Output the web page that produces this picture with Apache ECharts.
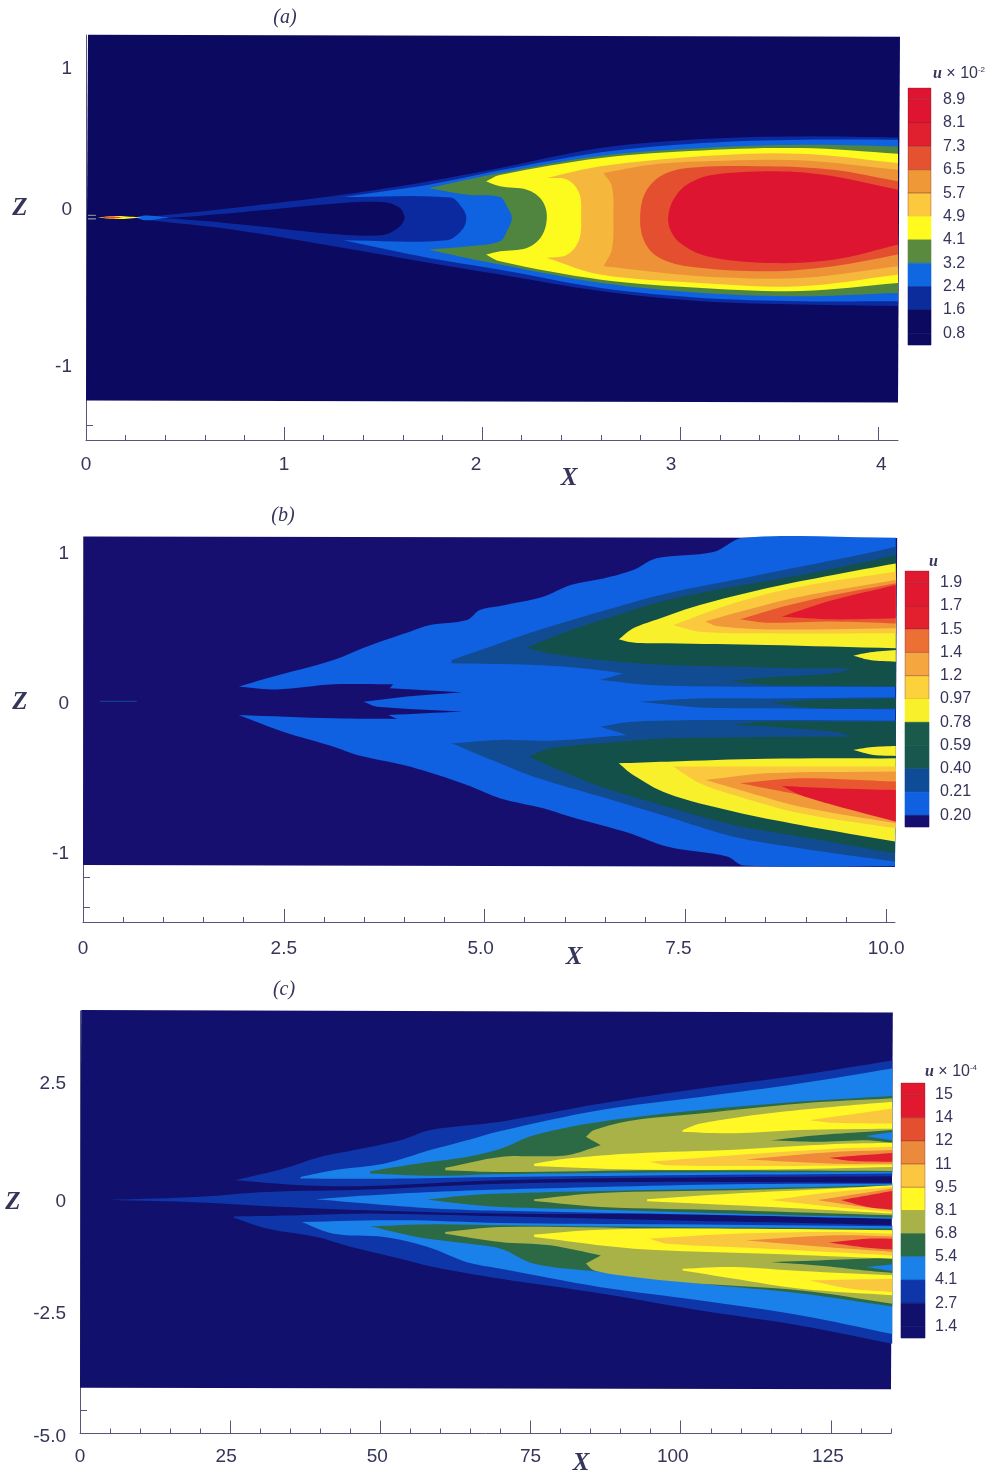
<!DOCTYPE html>
<html><head><meta charset="utf-8">
<script src="https://cdn.jsdelivr.net/npm/echarts@6/dist/echarts.min.js"></script>
<style>html,body{margin:0;padding:0;background:#fff}#c{width:997px;height:1473px}#c canvas{filter:blur(.45px)}</style>
</head><body><div id="c"></div>
<script>
// ---------- Panel (a): contour regions as [X, Z] outlines ----------
const aField=[[0.01,1.221],[4.11,1.208],[4.10,-1.248],[0,-1.235]];
const aDark=[[.29,-.005],[.74,.058],[1.30,.148],[1.73,.237],[2.09,.327],[2.60,.461],[3.11,.521],[3.61,.539],[4.1,.532],[4.1,-.60],[3.61,-.59],[3.11,-.568],[2.60,-.50],[2.09,-.389],[1.73,-.31],[1.30,-.21],[.74,-.087],[.29,-.02],[.41,-.012],[.744,-.047],[1.25,-.116],[1.50,-.123],[1.586,-.065],[1.611,-.009],[1.586,.058],[1.50,.098],[1.249,.087],[.744,.025],[.407,-.009]];
const aBlue=[[1.30,.132],[1.73,.215],[2.09,.311],[2.6,.432],[3.11,.494],[3.61,.517],[4.1,.517],[4.1,-.568],[3.61,-.568],[3.11,-.546],[2.6,-.479],[2.09,-.356],[1.73,-.277],[1.30,-.159],[1.82,-.159],[1.90,-.087],[1.92,-.009],[1.90,.058],[1.84,.128]];
const aGreen=[[1.73,.192],[2.09,.293],[2.6,.409],[3.11,.461],[3.61,.483],[4.1,.472],[4.1,-.512],[3.61,-.535],[3.11,-.512],[2.6,-.445],[2.09,-.322],[1.93,-.28],[1.73,-.221],[1.92,-.2],[2.09,-.166],[2.125,-.098],[2.15,-.009],[2.125,.069],[2.09,.132],[1.92,.148]];
const aYellow=[[2.02,.237],[2.09,.28],[2.6,.394],[3.11,.445],[3.61,.461],[4.1,.423],[4.1,-.445],[3.61,-.50],[3.11,-.479],[2.6,-.423],[2.09,-.30],[2.02,-.255],[2.09,-.233],[2.226,-.21],[2.30,-.132],[2.327,.002],[2.30,.114],[2.226,.181],[2.09,.204]];
const aGold=[[2.327,.26],[2.596,.338],[3.10,.405],[3.606,.423],[4.1,.36],[4.1,-.389],[3.606,-.468],[3.10,-.445],[2.596,-.389],[2.327,-.277],[2.43,-.255],[2.49,-.154],[2.50,.002],[2.49,.159],[2.43,.248]];
const aOrange=[[2.613,.293],[2.85,.349],[3.10,.371],[3.606,.378],[4.1,.315],[4.1,-.333],[3.606,-.412],[3.10,-.40],[2.613,-.333],[2.655,-.221],[2.663,.002],[2.655,.204]];
const aRedOrange=[[2.798,.002],[2.823,.159],[2.90,.271],[3.034,.327],[3.44,.338],[3.774,.315],[4.1,.237],[4.1,-.255],[3.774,-.333],[3.44,-.367],[3.034,-.333],[2.882,-.266],[2.815,-.154]];
const aRed=[[2.94,.002],[2.966,.114],[3.034,.215],[3.17,.282],[3.522,.304],[3.774,.271],[4.1,.181],[4.1,-.188],[3.774,-.289],[3.44,-.311],[3.135,-.266],[3.0,-.177],[2.95,-.087]];
const aTipBlue=[[.25,-.005],[.30,.008],[.42,-.006],[.30,-.024]];
const aTipYellow=[[.06,-.005],[.16,.004],[.28,-.006],[.16,-.016]];
const aTipRed=[[.07,-.005],[.13,.001],[.19,-.005],[.13,-.013]];
const aTipPale1=[[.01,.012],[.05,.012],[.05,.007],[.01,.007]];
const aTipPale2=[[.01,-.012],[.05,-.012],[.05,-.018],[.01,-.018]];
const aXMajor=[0,1,2,3,4];
const aXMajorText=['0','1','2','3','4'];
const aXMinor=[.2,.4,.6,.8,1.2,1.4,1.6,1.8,2.2,2.4,2.6,2.8,3.2,3.4,3.6,3.8];
const aYLabels=[1,0,-1];
const aYLabelText=['1','0','-1'];
const aYTicks=[-1.4];
const aLevels=['8.9','8.1','7.3','6.5','5.7','4.9','4.1','3.2','2.4','1.6','0.8'];
const aBarColors=['#de1430','#de1430','#e0202e','#e5522f','#ef9838','#fbc83e','#fffb1e','#5a8a3e','#1068e0','#0c2c9c','#0b0a60','#0b0a60'];

// ---------- Panel (b) ----------
const bField=[[0.012,1.103],[10.137,1.093],[10.11,-1.10],[0,-1.087]];
const bStreak=[[.21,.009],[.67,.009],[.67,.002],[.21,.002]];
const bBlue=[[1.94,.102],[2.29,.158],[3.12,.28],[3.53,.369],[4.07,.469],[4.32,.513],[4.78,.547],[4.94,.613],[5.19,.64],[5.73,.702],[6.07,.78],[6.48,.824],[6.85,.88],[7.14,.958],[7.85,1.0],[8.22,1.095],[10.12,1.095],[10.11,-1.095],[8.22,-1.09],[8.02,-1.03],[7.27,-.964],[6.81,-.876],[6.06,-.764],[5.73,-.709],[5.19,-.642],[4.78,-.553],[4.07,-.431],[3.41,-.353],[3.12,-.298],[2.49,-.198],[1.94,-.087],[3.12,-.109],[3.91,-.113],[3.80,-.087],[4.72,-.064],[3.66,-.031],[3.49,.002],[4.11,.04],[4.72,.064],[3.82,.091],[3.86,.118],[3.12,.118],[2.41,.084]];
const bTealUpper=[[4.59,.28],[5.19,.391],[5.61,.469],[6.44,.602],[7.27,.724],[8.10,.813],[8.93,.902],[9.76,.991],[10.12,1.036],[10.12,.102],[8.10,.102],[7.06,.113],[6.44,.147],[6.73,.191],[6.23,.224],[5.61,.247],[4.59,.258]];
const bTealMid=[[6.92,.002],[7.68,.024],[8.51,.024],[10.12,.031],[10.12,-.049],[8.51,-.042],[7.68,-.036]];
const bTealLower=[[4.59,-.276],[5.19,-.253],[5.82,-.258],[6.77,-.22],[6.44,-.164],[6.85,-.131],[8.10,-.12],[10.12,-.124],[10.11,-1.064],[8.93,-.976],[8.10,-.898],[7.27,-.764],[6.44,-.631],[5.61,-.498],[5.19,-.409]];
const bGreenUpper=[[5.55,.369],[6.02,.469],[6.65,.58],[7.27,.68],[8.10,.769],[8.93,.847],[9.76,.936],[10.12,.98],[10.12,.102],[9.34,.107],[8.51,.113],[8.06,.14],[8.51,.164],[9.34,.191],[9.59,.224],[8.93,.224],[8.10,.236],[7.27,.247],[6.44,.28],[5.82,.324],[5.55,.358]];
const bGreenMid=[[8.56,-.004],[9.14,.013],[10.12,.024],[10.12,-.042],[9.14,-.042]];
const bGreenLower=[[5.55,-.364],[5.82,-.309],[6.44,-.276],[7.27,-.242],[8.10,-.236],[8.93,-.231],[9.59,-.231],[9.34,-.198],[8.51,-.164],[8.06,-.153],[8.51,-.131],[9.34,-.131],[10.12,-.131],[10.11,-1.009],[8.93,-.898],[8.10,-.82],[7.27,-.698],[6.44,-.564],[6.02,-.476]];
const bYellowUpper=[[6.67,.418],[6.85,.491],[7.19,.558],[7.68,.647],[8.51,.758],[9.34,.847],[10.12,.924],[10.12,.358],[8.51,.38],[7.27,.391],[6.85,.396]];
const bYellowSmallUp=[[9.59,.309],[9.80,.331],[10.12,.347],[10.12,.269],[9.80,.28]];
const bYellowLower=[[6.67,-.409],[7.27,-.398],[8.51,-.378],[10.12,-.376],[10.11,-.931],[8.93,-.82],[8.10,-.731],[7.27,-.609],[6.85,-.487]];
const bYellowSmallLow=[[9.59,-.32],[9.80,-.302],[10.12,-.293],[10.12,-.36],[9.84,-.353]];
const bGoldUpper=[[7.35,.513],[8.10,.658],[8.93,.769],[10.12,.869],[10.12,.458],[8.51,.458],[7.68,.469]];
const bGoldLower=[[7.35,-.431],[10.12,-.431],[10.12,-.842],[8.93,-.742],[8.10,-.62],[7.68,-.542]];
const bOrangeUpper=[[7.75,.536],[8.18,.602],[8.93,.702],[10.12,.813],[10.12,.491],[8.51,.484],[7.89,.507]];
const bOrangeLower=[[7.75,-.52],[8.51,-.476],[10.12,-.464],[10.12,-.809],[8.93,-.698],[8.18,-.587]];
const bRedOrangeUpper=[[8.18,.551],[8.72,.636],[9.34,.713],[10.12,.791],[10.12,.524],[9.34,.536],[8.51,.529]];
const bRedOrangeLower=[[8.18,-.542],[8.93,-.509],[10.12,-.531],[10.12,-.787],[9.34,-.664],[8.72,-.598]];
const bRedUpper=[[8.70,.569],[9.34,.68],[10.12,.78],[10.12,.558],[9.34,.551]];
const bRedLower=[[8.70,-.56],[9.34,-.576],[10.12,-.587],[10.12,-.798],[9.34,-.687],[8.93,-.62]];
const bXMajor=[0,2.5,5,7.5,10];
const bXMajorText=['0','2.5','5.0','7.5','10.0'];
const bXMinor=[.5,1,1.5,2,3,3.5,4,4.5,5.5,6,6.5,7,8,8.5,9,9.5];
const bYLabels=[1,0,-1];
const bYLabelText=['1','0','-1'];
const bYTicks=[-1.167,-1.367];
const bLevels=['1.9','1.7','1.5','1.4','1.2','0.97','0.78','0.59','0.40','0.21','0.20'];
const bBarColors=['#e01830','#e01830','#e2202e','#ec7034','#f5a63e','#fbd23c','#f8f02a','#1a5a4a','#17574e','#0f4c98','#1060e2','#160f70'];

// ---------- Panel (c) ----------
const cField=[[0.2,4.07],[135.3,4.02],[135,-4.05],[0,-4.02]];
const cDarkUpper=[[25.8,.425],[33.9,.675],[40,.925],[45.6,1.07],[53.3,1.28],[58.3,1.50],[70,1.68],[86.7,2.07],[103.3,2.39],[120,2.68],[135.2,2.99],[135.2,.51],[97.8,.48],[70,.425],[47.8,.30],[36.7,.32]];
const cDarkCentre=[[5,.005],[20,.07],[31.1,.175],[47.8,.225],[70,.35],[97.8,.39],[135.2,.37],[135.2,-.405],[125.6,-.375],[97.8,-.305],[70,-.29],[47.8,-.22],[31.1,-.13],[20,-.05]];
const cDarkLower=[[25.6,-.35],[36.7,-.326],[47.8,-.29],[70,-.348],[97.8,-.433],[125.6,-.505],[135.2,-.54],[135.2,-3.08],[120,-2.69],[103.3,-2.365],[86.7,-2.0],[70,-1.685],[58.9,-1.435],[53.3,-1.255],[45,-1.0],[39.4,-.79],[31.1,-.61],[25.6,-.376]];
const cBlueUpper=[[36.7,.495],[42.2,.64],[50.6,.78],[58.3,1.07],[64.4,1.28],[70,1.48],[86.7,1.93],[103.3,2.21],[120,2.5],[135.2,2.82],[135.2,.57],[97.8,.53],[70,.495],[53.3,.46],[36.7,.46]];
const cBlueCentre=[[39.2,.02],[47.8,.10],[58.9,.175],[70,.225],[86.7,.28],[108.9,.34],[135.2,.35],[135.2,-.40],[108.9,-.325],[86.7,-.27],[70,-.23],[58.9,-.18],[47.8,-.075]];
const cBlueLower=[[36.9,-.47],[53.3,-.43],[70,-.49],[97.8,-.52],[135.2,-.56],[135.2,-2.87],[120,-2.47],[103.3,-2.15],[86.7,-1.865],[70,-1.47],[64.4,-1.33],[57.8,-1.0],[50.6,-.79],[42.2,-.72]];
const cGreenUpper=[[48.3,.62],[56.1,.78],[64.4,.925],[70,1.10],[75.6,1.39],[86.7,1.68],[103.3,1.93],[120,2.11],[135.2,2.23],[135.2,.60],[97.8,.59],[70,.555],[58.9,.52],[48.3,.57]];
const cGreenCentre=[[57.8,.01],[64.4,.10],[70,.14],[86.7,.195],[108.9,.245],[135.2,.32],[135.2,-.375],[108.9,-.29],[86.7,-.205],[70,-.147],[64.4,-.09]];
const cGreenLower=[[48.3,-.56],[58.9,-.52],[70,-.54],[97.8,-.576],[135.2,-.61],[135.2,-2.28],[120,-2.0],[103.3,-1.79],[86.7,-1.54],[75.6,-1.365],[70,-1.04],[64.4,-.93],[56.1,-.79]];
const cOliveUpper=[[60.8,.69],[70,.925],[75.6,.94],[81.1,.96],[86.7,1.175],[84.2,1.355],[85.6,1.50],[92.2,1.71],[103.3,1.855],[120,2.07],[135.2,2.18],[135.2,.625],[97.8,.64],[70,.60],[60.8,.64]];
const cOliveCentre=[[75.6,.017],[86.7,.153],[108.9,.21],[135.2,.296],[135.2,-.326],[108.9,-.22],[86.7,-.147],[75.6,-.019]];
const cOliveLower=[[60.8,-.684],[70,-.576],[97.8,-.61],[135.2,-.648],[135.2,-2.22],[120,-1.935],[103.3,-1.79],[92.2,-1.65],[85.6,-1.506],[84.2,-1.36],[86.7,-1.185],[78.3,-.97],[70,-.90],[60.8,-.72]];
const cPatchGreenUp=[[115,1.28],[122.8,1.39],[130.6,1.46],[135.2,1.50],[135.2,1.226],[131.1,1.28],[122.8,1.25]];
const cPatchGreenLow=[[115,-1.33],[125.6,-1.28],[135.2,-1.235],[135.2,-1.56],[130.6,-1.507],[122.8,-1.40]];
const cPatchBlueUp=[[130.8,1.37],[135.2,1.46],[135.2,1.28]];
const cPatchBlueLow=[[130.8,-1.435],[135.2,-1.378],[135.2,-1.52]];
const cYellowU1=[[100.3,1.50],[103.3,1.64],[114.4,1.855],[125.6,2.0],[135.2,2.105],[135.2,1.53],[120,1.50],[108.9,1.43],[100.3,1.46]];
const cYellowU2=[[75.6,.78],[81.1,.89],[92.2,1.0],[108.9,1.08],[125.6,1.2],[135.2,1.226],[135.2,.71],[114.4,.654],[92.2,.654],[75.6,.73]];
const cYellowC=[[94.4,.017],[108.9,.14],[125.6,.246],[135.2,.318],[135.2,-.29],[125.6,-.22],[108.9,-.11],[94.4,-.026]];
const cYellowL1=[[75.6,-.74],[86.7,-.634],[108.9,-.612],[135.2,-.648],[135.2,-1.256],[114.4,-1.15],[92.2,-1.04],[75.6,-.79]];
const cYellowL2=[[100.3,-1.47],[108.9,-1.435],[120,-1.52],[135.2,-1.61],[135.2,-2.04],[120,-1.9],[108.9,-1.685],[100.3,-1.506]];
const cGoldU1=[[121.4,1.71],[135.2,1.96],[135.2,1.64],[125.6,1.655]];
const cGoldU2=[[94.7,.82],[108.9,.96],[125.6,1.10],[135.2,1.14],[135.2,.747],[114.4,.73],[97.8,.747]];
const cGoldC=[[115,0],[125.6,.175],[135.2,.28],[135.2,-.255],[125.6,-.147]];
const cGoldL1=[[94.7,-.827],[108.9,-.72],[125.6,-.684],[135.2,-.72],[135.2,-1.185],[114.4,-1.04],[97.8,-.934]];
const cGoldL2=[[121.4,-1.72],[135.2,-1.685],[135.2,-1.97],[128.3,-1.9]];
const cOrangeU2=[[110.8,.87],[125.6,1.03],[135.2,1.07],[135.2,.78],[125.6,.78]];
const cOrangeC=[[122.8,0],[135.2,.246],[135.2,-.22],[128.3,-.11]];
const cOrangeL1=[[110.8,-.863],[125.6,-.755],[135.2,-.777],[135.2,-1.11],[125.6,-1.02]];
const cRedU2=[[124.7,.905],[135.2,1.01],[135.2,.82],[128.3,.84]];
const cRedC=[[126.7,0],[131.1,.10],[135.2,.196],[135.2,-.205],[131.1,-.147]];
const cRedL1=[[124.7,-.91],[131.1,-.827],[135.2,-.827],[135.2,-1.06],[131.1,-1.02]];
const cXMajor=[0,25,50,75,100,125];
const cXMajorText=['0','25','50','75','100','125'];
const cXMinor=[5,10,15,20,30,35,40,45,55,60,65,70,80,85,90,95,105,110,115,120,130,135];
const cYLabels=[2.5,0,-2.5,-5];
const cYLabelText=['2.5','0','-2.5','-5.0'];
const cYTicks=[-4.5];
const cLevels=['15','14','12','11','9.5','8.1','6.8','5.4','4.1','2.7','1.4'];
const cBarColors=['#e2182f','#e2182f','#e4502f','#ec8a3c','#fbc640','#fff824','#a8b247','#2c6a46','#1a80ea','#0f36a8','#11106c','#11106c'];

// ---------- Styles ----------
const INK='#35355a', AXIS='#55557e', SANS='"Liberation Sans",Arial,sans-serif', SERIF='"Liberation Serif",serif';
const palA={navy:'#0b0a60',dark:'#0c2aa0',blue:'#0f62e0',green:'#50853f',yellow:'#fdfb1e',gold:'#f6b83c',orange:'#ee9238',redorange:'#e4502f',red:'#dd1530',pale:'#c9d6b0'};
const palB={navy:'#160f70',blue:'#1060e2',teal:'#114c93',green:'#14504a',yellow:'#f7f02a',gold:'#fbc93e',orange:'#f0983a',redorange:'#e8572f',red:'#e01830'};
const palC={navy:'#11106c',dark:'#0f36a8',blue:'#1a80ea',green:'#2c6a46',olive:'#a8b247',yellow:'#fff824',gold:'#f9c83f',orange:'#ee8a3a',red:'#e0202f'};

const layersA=[[aField,palA.navy],[aDark,palA.dark],[aBlue,palA.blue],[aGreen,palA.green],[aYellow,palA.yellow],[aGold,palA.gold],[aOrange,palA.orange],[aRedOrange,palA.redorange],[aRed,palA.red],[aTipBlue,palA.blue],[aTipYellow,palA.yellow],[aTipRed,palA.redorange],[aTipPale1,palA.pale],[aTipPale2,palA.pale]];
const layersB=[[bField,palB.navy],[bStreak,palB.teal],[bBlue,palB.blue],[bTealUpper,palB.teal],[bTealMid,palB.teal],[bTealLower,palB.teal],[bGreenUpper,palB.green],[bGreenMid,palB.green],[bGreenLower,palB.green],[bYellowUpper,palB.yellow],[bYellowSmallUp,palB.yellow],[bYellowLower,palB.yellow],[bYellowSmallLow,palB.yellow],[bGoldUpper,palB.gold],[bGoldLower,palB.gold],[bOrangeUpper,palB.orange],[bOrangeLower,palB.orange],[bRedOrangeUpper,palB.redorange],[bRedOrangeLower,palB.redorange],[bRedUpper,palB.red],[bRedLower,palB.red]];
const layersC=[[cField,palC.navy],[cDarkUpper,palC.dark],[cDarkCentre,palC.dark],[cDarkLower,palC.dark],[cBlueUpper,palC.blue],[cBlueCentre,palC.blue],[cBlueLower,palC.blue],[cGreenUpper,palC.green],[cGreenCentre,palC.green],[cGreenLower,palC.green],[cOliveUpper,palC.olive],[cOliveCentre,palC.olive],[cOliveLower,palC.olive],[cPatchGreenUp,palC.green],[cPatchGreenLow,palC.green],[cPatchBlueUp,palC.blue],[cPatchBlueLow,palC.blue],[cYellowU1,palC.yellow],[cYellowU2,palC.yellow],[cYellowC,palC.yellow],[cYellowL1,palC.yellow],[cYellowL2,palC.yellow],[cGoldU1,palC.gold],[cGoldU2,palC.gold],[cGoldC,palC.gold],[cGoldL1,palC.gold],[cGoldL2,palC.gold],[cOrangeU2,palC.orange],[cOrangeC,palC.orange],[cOrangeL1,palC.orange],[cRedU2,palC.red],[cRedC,palC.red],[cRedL1,palC.red]];

// nudges: horizontal label shift (px), matching the hand-set labels of the print
const panels=[
 {layers:layersA,box:{left:86,width:812,top:35,height:405},xMax:4.1,yMin:-1.5,yMax:1.22,
  xMajor:aXMajor,xText:aXMajorText,xMinor:aXMinor,yLabels:aYLabels,yText:aYLabelText,yTicks:aYTicks,
  xMargin:15,xNudge:{2:-6,3:-9,4:3},yLift:{0:8},yPad:[3,0,0,0],
  levels:aLevels,bar:aBarColors,barBox:{left:908,width:23,top:88,height:257},barMargin:12},
 {layers:layersB,box:{left:83,width:812,top:537,height:385},xMax:10.11,yMin:-1.467,yMax:1.1,
  xMajor:bXMajor,xText:bXMajorText,xMinor:bXMinor,yLabels:bYLabels,yText:bYLabelText,yTicks:bYTicks,
  xMargin:17,xNudge:{5:-4,7.5:-7},yLift:{},yPad:[3,0,0,0],
  levels:bLevels,bar:bBarColors,barBox:{left:905,width:24,top:571,height:256},barMargin:11},
 {layers:layersC,box:{left:80,width:811,top:1011,height:422.5},xMax:135,yMin:-5,yMax:4.05,
  xMajor:cXMajor,xText:cXMajorText,xMinor:cXMinor,yLabels:cYLabels,yText:cYLabelText,yTicks:cYTicks,
  xMargin:14,xNudge:{25:-4,50:-3,100:-8,125:-3},yLift:{0:-2,'-2.5':3,'-5':-3},yPad:[0,0,0,0],
  levels:cLevels,bar:cBarColors,barBox:{left:901,width:24,top:1083,height:255},barMargin:10}
];

// Rounds the drawn outline between read vertices, keeping tips and edge corners sharp.
function roundedOutline(px){
  const n=px.length, out=[], cornerAngle=50*Math.PI/180;
  const dir=(a,b)=>{const dx=b[0]-a[0],dy=b[1]-a[1],l=Math.hypot(dx,dy)||1;return [dx/l,dy/l];};
  const tang=px.map((p,i)=>{
    const a=px[(i-1+n)%n], b=px[(i+1)%n], d1=dir(a,p), d2=dir(p,b);
    const ang=Math.acos(Math.max(-1,Math.min(1,d1[0]*d2[0]+d1[1]*d2[1])));
    return ang>cornerAngle?null:dir(a,b);
  });
  for(let i=0;i<n;i++){
    const p0=px[i], p1=px[(i+1)%n], L=Math.hypot(p1[0]-p0[0],p1[1]-p0[1]), d=dir(p0,p1);
    const t0=tang[i]||d, t1=tang[(i+1)%n]||d;
    for(let s=0;s<8;s++){
      const u=s/8,u2=u*u,u3=u2*u;
      const h00=2*u3-3*u2+1,h10=u3-2*u2+u,h01=-2*u3+3*u2,h11=u3-u2;
      out.push([h00*p0[0]+h10*L*t0[0]+h01*p1[0]+h11*L*t1[0],h00*p0[1]+h10*L*t0[1]+h01*p1[1]+h11*L*t1[1]]);
    }
  }
  return out;
}

const grid=[],xAxis=[],yAxis=[],series=[];
function richFor(nudgeMap,vertical){
  const rich={};
  Object.keys(nudgeMap).forEach((k,i)=>{
    const d=nudgeMap[k];
    rich['n'+i]={fontFamily:SANS,fontSize:19,color:INK,
      padding:vertical?(d>0?[0,0,2*d,0]:[-2*d,0,0,0]):(d>0?[0,0,0,2*d]:[0,-2*d,0,0])};
  });
  return rich;
}
function labeler(values,texts,nudgeMap){
  return v=>{
    const idx=values.findIndex(t=>Math.abs(t-v)<1e-6);
    const s=idx<0?'':texts[idx];
    const k=Object.keys(nudgeMap).findIndex(t=>Math.abs(Number(t)-v)<1e-6);
    return k<0?s:'{n'+k+'|'+s+'}';
  };
}
panels.forEach(p=>{
  // main grid: field, major ticks, labels
  const gi=grid.length;
  grid.push(Object.assign({containLabel:false},p.box));
  xAxis.push({gridIndex:gi,type:'value',min:0,max:p.xMax,splitLine:{show:false},
    axisLine:{onZero:false,lineStyle:{color:AXIS,width:1}},
    axisTick:{customValues:p.xMajor,inside:true,length:13,lineStyle:{color:AXIS,width:1}},
    axisLabel:{customValues:p.xMajor,formatter:labeler(p.xMajor,p.xText,p.xNudge),rich:richFor(p.xNudge,false),
      hideOverlap:false,margin:p.xMargin,color:INK,fontFamily:SANS,fontSize:19}});
  yAxis.push({gridIndex:gi,type:'value',min:p.yMin,max:p.yMax,splitLine:{show:false},
    axisLine:{onZero:false,lineStyle:{color:AXIS,width:1}},
    axisTick:{customValues:p.yTicks,inside:true,length:7,lineStyle:{color:AXIS,width:1}},
    axisLabel:{customValues:p.yLabels,formatter:labeler(p.yLabels,p.yText,p.yLift),rich:richFor(p.yLift,true),padding:p.yPad,
      hideOverlap:false,margin:14,color:INK,fontFamily:SANS,fontSize:19}});
  series.push({type:'custom',xAxisIndex:xAxis.length-1,yAxisIndex:yAxis.length-1,silent:true,animation:false,z:3,
    data:p.layers.map(l=>l[0][0]),
    renderItem:(params,api)=>{
      const l=p.layers[params.dataIndex];
      const px=l[0].map(q=>api.coord(q));
      return {type:'polygon',shape:{points:params.dataIndex===0?px:roundedOutline(px)},style:{fill:l[1]}};
    }});
  // overlay grid: minor ticks only
  const gm=grid.length;
  grid.push(Object.assign({containLabel:false},p.box));
  xAxis.push({gridIndex:gm,type:'value',min:0,max:p.xMax,splitLine:{show:false},axisLine:{show:false,onZero:false},axisLabel:{show:false},
    axisTick:{customValues:p.xMinor,inside:true,length:5,lineStyle:{color:AXIS,width:1}}});
  yAxis.push({gridIndex:gm,type:'value',min:p.yMin,max:p.yMax,show:false});
  // colour bar: levels sit on the cell boundaries
  const gb=grid.length;
  grid.push(Object.assign({containLabel:false},p.barBox));
  const n=p.levels.length, idx=p.levels.map((_,i)=>n-1-i);
  xAxis.push({gridIndex:gb,type:'value',min:0,max:1,show:false});
  yAxis.push({gridIndex:gb,type:'value',position:'right',min:-.5,max:n-.5,splitLine:{show:false},axisLine:{show:false},axisTick:{show:false},
    axisLabel:{customValues:idx,formatter:v=>p.levels[n-1-Math.round(v)],padding:[2,0,0,0],hideOverlap:false,margin:p.barMargin,color:INK,fontFamily:SANS,fontSize:16}});
  series.push({type:'custom',xAxisIndex:xAxis.length-1,yAxisIndex:yAxis.length-1,silent:true,animation:false,z:3,
    data:p.bar.map((c,i)=>[0,n-.5-i]),
    renderItem:(params,api)=>{
      const i=params.dataIndex;
      const hi=i===0?n-.5:n-i, lo=i===p.bar.length-1?-.5:n-1-i;
      const a=api.coord([0,hi]), b=api.coord([1,lo]);
      return {type:'rect',shape:{x:a[0],y:a[1],width:b[0]-a[0],height:b[1]-a[1]},
        style:{fill:p.bar[i],stroke:i<6?'rgba(120,20,35,.55)':p.bar[i],lineWidth:.6}};
    }});
});

const bigLetter=(t,x,y)=>({type:'text',x,y,style:{text:t,font:'italic bold 25px '+SERIF,fill:INK,align:'center',verticalAlign:'middle'}});
const panelTag=(t,x,y)=>({type:'text',x,y,style:{text:t,font:'italic 20px '+SERIF,fill:INK,align:'center',verticalAlign:'middle'}});
const barTitle=(x,y,exp)=>({type:'text',x,y,style:{
  text:'{u|u}'+(exp?'{r| × 10}{e|'+exp+'}':''),verticalAlign:'middle',
  rich:{u:{font:'italic bold 16px '+SERIF,fill:INK},r:{font:'16px '+SANS,fill:INK},e:{font:'8px '+SANS,fill:INK,verticalAlign:'top',padding:[0,0,6,0]}}}});

const chart=echarts.init(document.getElementById('c'),null,{renderer:'canvas'});
chart.setOption({animation:false,backgroundColor:'#fff',grid,xAxis,yAxis,series,
 graphic:{elements:[
  panelTag('(a)',285,18),panelTag('(b)',283,516),panelTag('(c)',284,990),
  bigLetter('Z',20,209),bigLetter('Z',20,703),bigLetter('Z',13,1203),
  bigLetter('X',569,479),bigLetter('X',574,958),bigLetter('X',581,1464),
  barTitle(933,74,'-2'),barTitle(929,562,''),barTitle(925,1072,'-4')
 ]}});
</script></body></html>
